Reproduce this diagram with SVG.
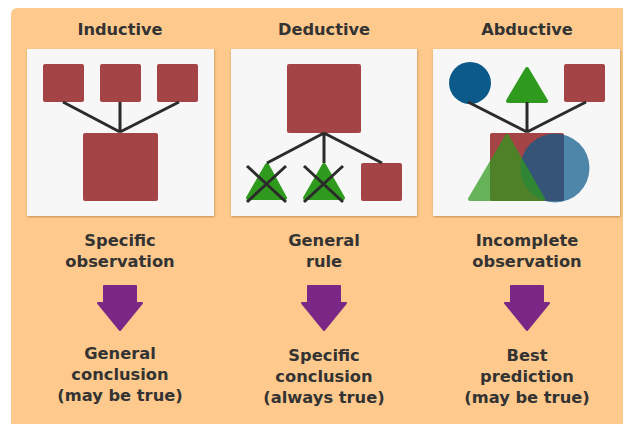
<svg xmlns="http://www.w3.org/2000/svg" width="623" height="424" viewBox="0 0 623 424">
  <defs>
    <filter id="shadow" x="-10%" y="-10%" width="120%" height="120%">
      <feDropShadow dx="0.5" dy="1" stdDeviation="1.2" flood-color="#7a4a1a" flood-opacity="0.45"/>
    </filter>
    <polygon id="arrow" points="-16,0 16,0 16,17 22,17 0,44 -22,17 -16,17"/>
  </defs>
  <style>
    .title { font-family: "DejaVu Sans", "Noto Sans", sans-serif; font-weight: bold; font-size: 16.2px; fill: #333333; text-anchor: middle; }
    .label { font-family: "DejaVu Sans", "Noto Sans", sans-serif; font-weight: bold; font-size: 16.3px; fill: #333333; text-anchor: middle; }
    .panel { fill: #f7f7f8; filter: url(#shadow); }
    .red { fill: #a44446; }
    .green { fill: #2f9a1d; stroke: #2f9a1d; stroke-width: 4; stroke-linejoin: round; }
    .blue { fill: #0b5a8a; }
    .link { stroke: #2b2b2b; stroke-width: 3; fill: none; }
    .arrow { fill: #7b2785; stroke: #7b2785; stroke-width: 2; stroke-linejoin: round; }
  </style>

  <!-- background -->
  <rect x="0" y="0" width="623" height="424" fill="#ffffff"/>
  <rect x="11" y="8" width="620" height="424" rx="6" fill="#fec98c"/>

  <!-- Inductive -->
  <g id="inductive">
    <text class="title" x="120" y="35">Inductive</text>
    <rect class="panel" x="27" y="49" width="187" height="167"/>
    <rect class="red" x="43" y="64" width="41" height="38" rx="2"/>
    <rect class="red" x="100" y="64" width="41" height="38" rx="2"/>
    <rect class="red" x="157" y="64" width="41" height="38" rx="2"/>
    <rect class="red" x="83" y="133" width="75" height="68" rx="2"/>
    <path class="link" d="M63,102 L120,132 M120,102 L120,132 M179,102 L120,132"/>
    <text class="label" x="120" y="246">Specific</text>
    <text class="label" x="120" y="267">observation</text>
    <use href="#arrow" class="arrow" x="120" y="286"/>
    <text class="label" x="120" y="359">General</text>
    <text class="label" x="120" y="380">conclusion</text>
    <text class="label" x="120" y="401">(may be true)</text>
  </g>

  <!-- Deductive -->
  <g id="deductive">
    <text class="title" x="324" y="35">Deductive</text>
    <rect class="panel" x="231" y="49" width="186" height="167"/>
    <rect class="red" x="287" y="64" width="74" height="69" rx="2"/>
    <polygon class="green" points="267,165 285,198 248,198"/>
    <polygon class="green" points="324,165 343,198 305,198"/>
    <rect class="red" x="361" y="163" width="41" height="38" rx="2"/>
    <path class="link" d="M324,133 L267,163 M324,133 L324,163 M324,133 L382,163"/>
    <path class="link" d="M247,166 L286,202 M286,166 L247,202 M304,166 L343,202 M343,166 L304,202"/>
    <text class="label" x="324" y="246">General</text>
    <text class="label" x="324" y="267">rule</text>
    <use href="#arrow" class="arrow" x="324" y="286"/>
    <text class="label" x="324" y="361">Specific</text>
    <text class="label" x="324" y="382">conclusion</text>
    <text class="label" x="324" y="403">(always true)</text>
  </g>

  <!-- Abductive -->
  <g id="abductive">
    <text class="title" x="527" y="35">Abductive</text>
    <rect class="panel" x="433" y="49" width="187" height="167"/>
    <circle class="blue" cx="470" cy="83" r="21"/>
    <polygon class="green" points="527,69 546,101 508,101"/>
    <rect class="red" x="564" y="64" width="41" height="38" rx="2"/>
    <path class="link" d="M468,102 L527,132 M527,102 L527,132 M586,102 L527,132"/>
    <rect class="red" x="490" y="133" width="74" height="68" rx="2"/>
    <circle class="blue" cx="555" cy="168" r="34.5" opacity="0.72"/>
    <polygon class="green" points="507,136 543,199 470,199" opacity="0.72"/>
    <text class="label" x="527" y="246">Incomplete</text>
    <text class="label" x="527" y="267">observation</text>
    <use href="#arrow" class="arrow" x="527" y="286"/>
    <text class="label" x="527" y="361">Best</text>
    <text class="label" x="527" y="382">prediction</text>
    <text class="label" x="527" y="403">(may be true)</text>
  </g>
</svg>
